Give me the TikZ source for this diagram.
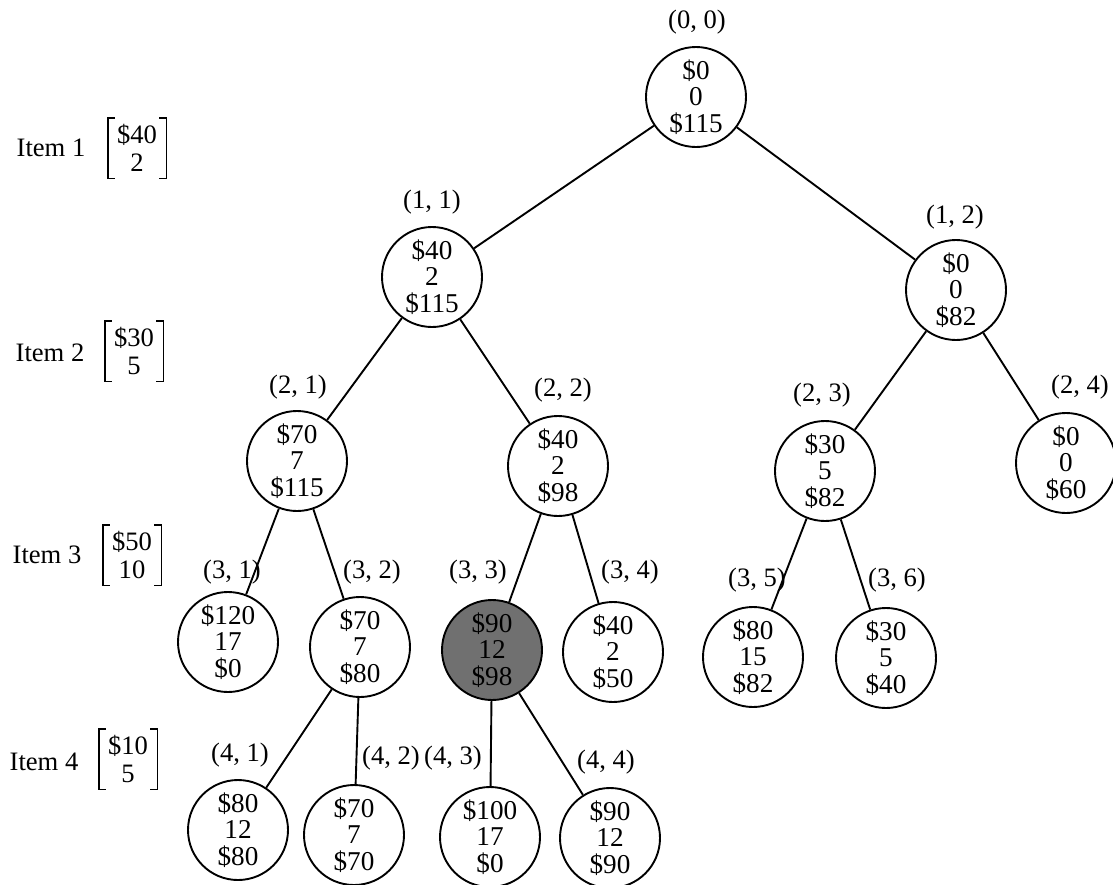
\documentclass[tikz,border=0pt]{standalone}
\usepackage{fontspec}
\setmainfont{Liberation Serif}
\begin{document}
\begin{tikzpicture}[x=0.5pt,y=-0.5pt,
  st/.style={circle,draw,line width=0.95pt,minimum size=50pt,inner sep=0pt,align=center,font=\fontsize{13.6}{13.3}\selectfont},
  hl/.style={st,fill=black!56},
  lbl/.style={inner sep=0pt,font=\fontsize{13.3}{14}\selectfont},
  brk/.style={inner sep=0pt,align=center,minimum width=29pt,minimum height=30pt,font=\fontsize{13.3}{14}\selectfont},
  conn/.style={line width=0.95pt},
  bline/.style={line width=0.9pt}]
\useasboundingbox (0,0) rectangle (1113,884);

% tree nodes
\node[st] (n00) at (696,97) {\$0\\0\\\$115};
\node[st] (n11) at (432,277) {\$40\\2\\\$115};
\node[st] (n12) at (956,290) {\$0\\0\\\$82};
\node[st] (n21) at (297,461) {\$70\\7\\\$115};
\node[st] (n22) at (558,466) {\$40\\2\\\$98};
\node[st] (n23) at (825,471) {\$30\\5\\\$82};
\node[st] (n24) at (1066,463) {\$0\\0\\\$60};
\node[st] (n31) at (228,642) {\$120\\17\\\$0};
\node[st] (n32) at (360,647) {\$70\\7\\\$80};
\node[hl] (n33) at (492,650) {\$90\\12\\\$98};
\node[st] (n34) at (613,652) {\$40\\2\\\$50};
\node[st] (n35) at (753,657) {\$80\\15\\\$82};
\node[st] (n36) at (886,658) {\$30\\5\\\$40};
\node[st] (n41) at (238,830) {\$80\\12\\\$80};
\node[st] (n42) at (354,835) {\$70\\7\\\$70};
\node[st] (n43) at (490,837) {\$100\\17\\\$0};
\node[st] (n44) at (610,838) {\$90\\12\\\$90};

% node labels
\node[lbl] (l00) at (697,22) {(0, 0)};
\node[lbl] (l11) at (432,202) {(1, 1)};
\node[lbl] (l12) at (955,217) {(1, 2)};
\node[lbl] (l21) at (298,387) {(2, 1)};
\node[lbl] (l22) at (563,390) {(2, 2)};
\node[lbl] (l23) at (822,395) {(2, 3)};
\node[lbl] (l24) at (1080,387) {(2, 4)};
\node[lbl] (l31) at (232,572) {(3, 1)};
\node[lbl] (l32) at (372,572) {(3, 2)};
\node[lbl] (l33) at (478,572) {(3, 3)};
\node[lbl] (l34) at (630,572) {(3, 4)};
\node[lbl] (l35) at (757,580) {(3, 5)};
\node[lbl] (l36) at (897,580) {(3, 6)};
\node[lbl] (l41) at (240,755) {(4, 1)};
\node[lbl] (l42) at (391,758) {(4, 2)};
\node[lbl] (l43) at (453,758) {(4, 3)};
\node[lbl] (l44) at (606,762) {(4, 4)};

% connectors
\draw[conn] (n00) -- (n11);
\draw[conn] (n00) -- (n12);
\draw[conn] (n11) -- (n21);
\draw[conn] (n11) -- (n22);
\draw[conn] (n12) -- (n23);
\draw[conn] (n12) -- (n24);
\draw[conn] (n21) -- (n31);
\draw[conn] (n21) -- (n32);
\draw[conn] (n22) -- (n33);
\draw[conn] (n22) -- (n34);
\draw[conn] (n23) -- (n35);
\draw[conn] (n23) -- (n36);
\draw[conn] (n32) -- (n41);
\draw[conn] (n32) -- (n42);
\draw[conn] (n33) -- (n43);
\draw[conn] (n33) -- (n44);

% item labels
\node[lbl] (i1) at (51,148) {Item 1};
\node[lbl] (i2) at (50,353) {Item 2};
\node[lbl] (i3) at (47,555) {Item 3};
\node[lbl] (i4) at (44,762) {Item 4};
\node[brk] (b1) at (137,148) {\$40\\2};
\node[brk] (b2) at (134,351) {\$30\\5};
\node[brk] (b3) at (132,555) {\$50\\10};
\node[brk] (b4) at (128,759) {\$10\\5};
\foreach \b in {b1,b2,b3,b4}{
  \draw[bline] ([xshift=3.5pt]\b.north west) -- (\b.north west) -- (\b.south west) -- ([xshift=3.5pt]\b.south west);
  \draw[bline] ([xshift=-3.5pt]\b.north east) -- (\b.north east) -- (\b.south east) -- ([xshift=-3.5pt]\b.south east);
}
\end{tikzpicture}
\end{document}
